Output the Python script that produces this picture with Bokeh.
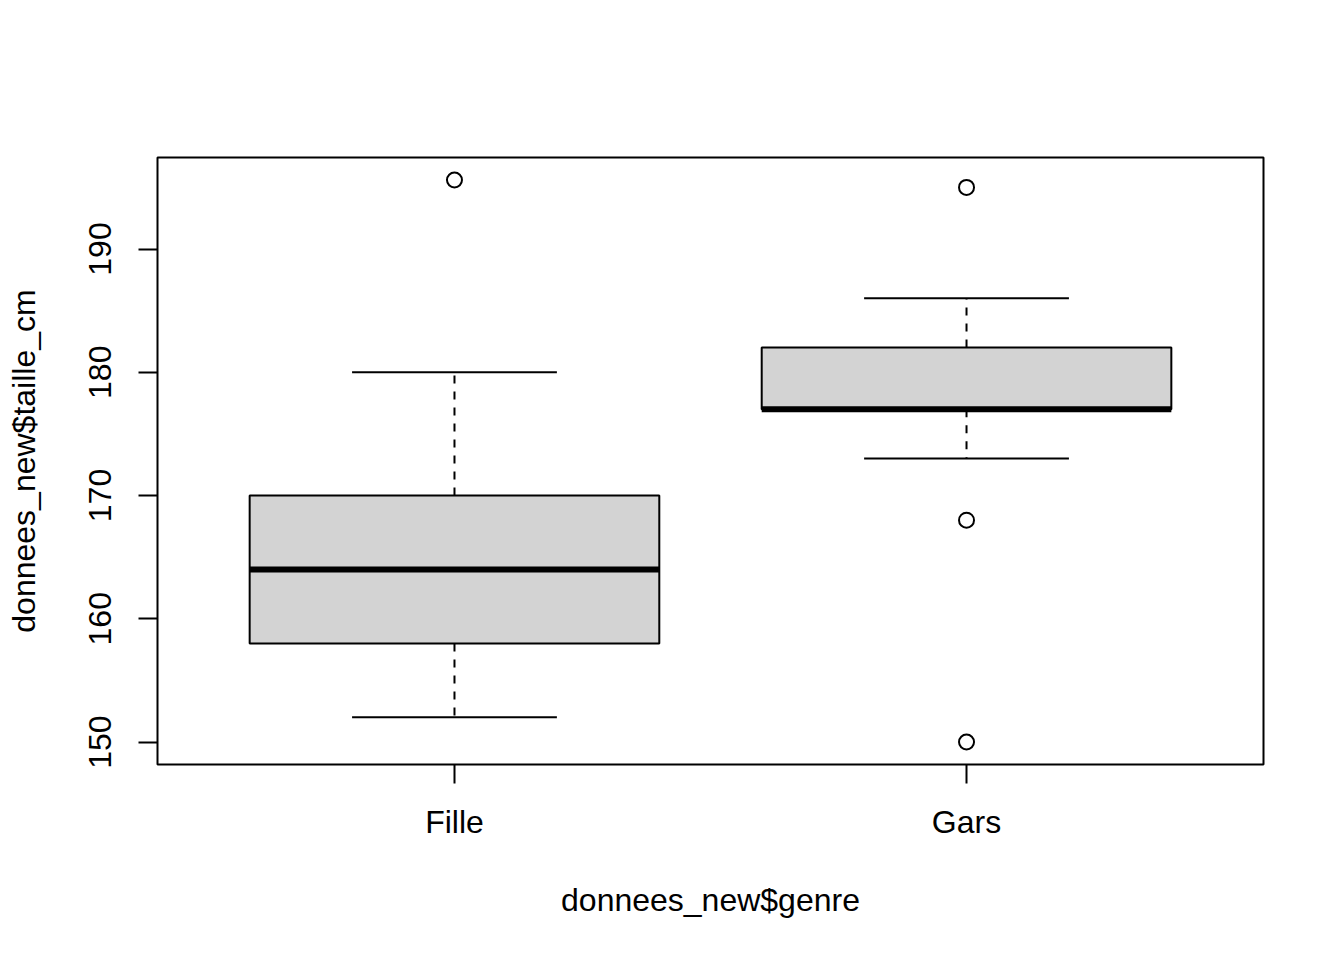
from bokeh.plotting import figure
from bokeh.models import Range1d, FixedTicker, ColumnDataSource
from bokeh.embed import file_html
from bokeh.resources import INLINE

# ---- data ----
categories = ["Fille", "Gars"]
positions = [1, 2]
lower_whisker = [152, 173]
q1 = [158, 177]
median = [164, 177]
q3 = [170, 182]
upper_whisker = [180, 186]
outlier_pos = [1, 2, 2, 2]
outlier_val = [195.6, 195, 168, 150]
y_ticks = [150, 160, 170, 180, 190]

FONT = "Liberation Sans"

# R-style axis limits: 4% extension of the data range
all_vals = lower_whisker + upper_whisker + outlier_val
ymin, ymax = min(all_vals), max(all_vals)
ext = 0.04 * (ymax - ymin)
xmin, xmax = 0.5, len(categories) + 0.5
xext = 0.04 * (xmax - xmin)

p = figure(width=1328, height=944, output_backend="svg", toolbar_location=None,
           x_range=Range1d(xmin - xext, xmax + xext),
           y_range=Range1d(ymin - ext, ymax + ext),
           min_border_left=157, min_border_right=65,
           min_border_top=157, min_border_bottom=180)
p.background_fill_color = "white"
p.border_fill_color = "white"
p.outline_line_color = "black"
p.outline_line_width = 2
p.xgrid.visible = False
p.ygrid.visible = False

box_w = 0.8
cap_w = 0.4
src = ColumnDataSource(dict(
    x=positions, lw=lower_whisker, q1=q1, med=median, q3=q3, uw=upper_whisker,
    left=[x - box_w / 2 for x in positions], right=[x + box_w / 2 for x in positions],
    cl=[x - cap_w / 2 for x in positions], cr=[x + cap_w / 2 for x in positions],
))

# whiskers (dashed)
p.segment(x0="x", y0="q3", x1="x", y1="uw", source=src, line_color="black",
          line_width=2, line_dash="8 8")
p.segment(x0="x", y0="q1", x1="x", y1="lw", source=src, line_color="black",
          line_width=2, line_dash="8 8")
# caps
p.segment(x0="cl", y0="uw", x1="cr", y1="uw", source=src, line_color="black", line_width=2)
p.segment(x0="cl", y0="lw", x1="cr", y1="lw", source=src, line_color="black", line_width=2)
# boxes
p.quad(left="left", right="right", bottom="q1", top="q3", source=src,
       fill_color="#D3D3D3", line_color="black", line_width=2)
# medians
p.segment(x0="left", y0="med", x1="right", y1="med", source=src,
          line_color="black", line_width=6)
# outliers
p.scatter(x=outlier_pos, y=outlier_val, marker="circle", size=15,
          fill_color=None, line_color="black", line_width=2)

# axes
for ax in (p.xaxis[0], p.yaxis[0]):
    ax.axis_line_color = None
    ax.major_tick_line_color = "black"
    ax.major_tick_line_width = 2
    ax.major_tick_out = 19
    ax.major_tick_in = 0
    ax.minor_tick_line_color = None
    ax.major_label_text_font = FONT
    ax.major_label_text_font_size = "32px"
    ax.major_label_text_color = "black"
    ax.axis_label_text_font = FONT
    ax.axis_label_text_font_size = "32px"
    ax.axis_label_text_font_style = "normal"
    ax.axis_label_text_color = "black"

p.xaxis.ticker = FixedTicker(ticks=positions)
p.xaxis.major_label_overrides = {pos: c for pos, c in zip(positions, categories)}
p.xaxis.axis_label = "donnees_new$genre"
p.xaxis.major_label_standoff = 20
p.xaxis.axis_label_standoff = 39

p.yaxis.ticker = FixedTicker(ticks=y_ticks)
p.yaxis.major_label_orientation = "vertical"
p.yaxis.axis_label = "donnees_new$taille_cm"
p.yaxis.major_label_standoff = 27
p.yaxis.axis_label_standoff = 45

open("out.html", "w").write(file_html(p, INLINE))
